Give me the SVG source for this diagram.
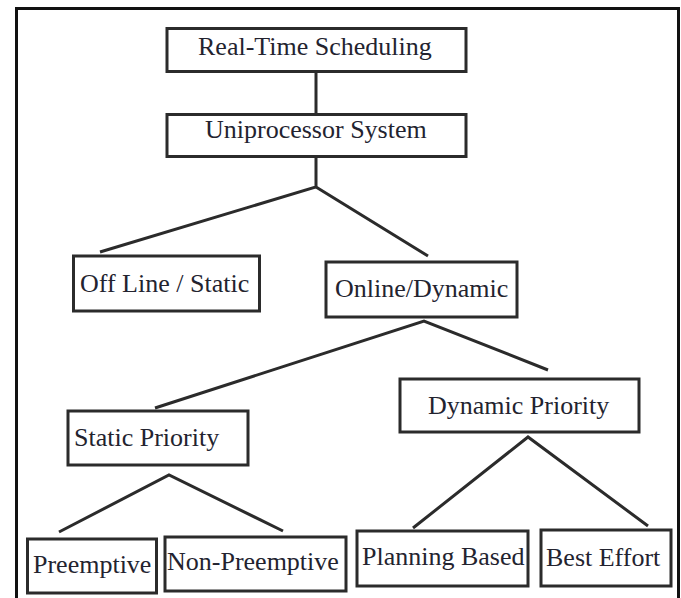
<svg xmlns="http://www.w3.org/2000/svg" width="681" height="598" viewBox="0 0 681 598">
<style>
.box{fill:none;stroke:#2b2b2b;stroke-width:3}
.lbl{font-family:"Liberation Serif","Times New Roman",serif;font-size:26px;fill:#23232f}
.conn line,.conn path{stroke:#2b2b2b;stroke-width:3;fill:none}
</style>
<rect width="681" height="598" fill="#fff"/>
<g id="frame" fill="none" stroke="#111" stroke-width="3">
<path d="M16.5 598 V8.5 H678.5 V598"/>
</g>
<g class="conn" id="connectors">
<line x1="316" y1="72" x2="316" y2="114"/>
<path d="M316 157 V187 L100 252 M316 187 L428 256"/>
<path d="M155 408 L424 321 L548 370"/>
<path d="M59 532 L169 475 L283 531"/>
<path d="M413 528 L528 437 L648 526"/>
</g>
<g id="n-realtime"><rect class="box" x="167" y="28.5" width="299" height="43"/><text class="lbl" x="198" y="55">Real-Time Scheduling</text></g>
<g id="n-uni"><rect class="box" x="167" y="114.5" width="299" height="42"/><text class="lbl" x="205" y="138">Uniprocessor System</text></g>
<g id="n-offline"><rect class="box" x="73.5" y="256" width="186" height="55"/><text class="lbl" x="80" y="292">Off Line / Static</text></g>
<g id="n-online"><rect class="box" x="326" y="262" width="191" height="55"/><text class="lbl" x="335" y="297">Online/Dynamic</text></g>
<g id="n-static"><rect class="box" x="68" y="411" width="180" height="54"/><text class="lbl" x="74" y="446">Static Priority</text></g>
<g id="n-dynamic"><rect class="box" x="400" y="379" width="239" height="53"/><text class="lbl" x="428" y="414">Dynamic Priority</text></g>
<g id="n-preemptive"><rect class="box" x="27.5" y="539" width="129" height="54"/><text class="lbl" x="33" y="573">Preemptive</text></g>
<g id="n-nonpreemptive"><rect class="box" x="165" y="537" width="181" height="54"/><text class="lbl" x="167" y="570">Non-Preemptive</text></g>
<g id="n-planning"><rect class="box" x="357" y="531" width="171" height="55"/><text class="lbl" x="362" y="565">Planning Based</text></g>
<g id="n-besteffort"><rect class="box" x="541" y="530" width="130" height="56"/><text class="lbl" x="546" y="566">Best Effort</text></g>
</svg>
